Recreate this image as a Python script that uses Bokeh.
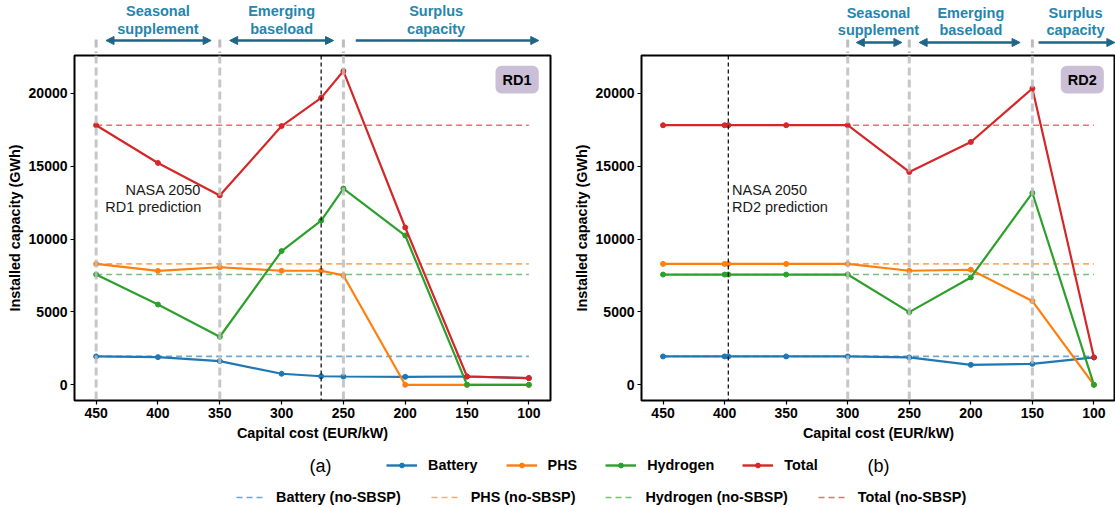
from bokeh.plotting import figure
from bokeh.layouts import column, row
from bokeh.models import (Range1d, FixedTicker, Span, Label, BoxAnnotation, Arrow,
                          NormalHead, Legend, LegendItem)
from bokeh.embed import file_html
from bokeh.resources import INLINE

# ---------------- data ----------------
x_ticks = [450, 400, 350, 300, 250, 200, 150, 100]
y_ticks = [0, 5000, 10000, 15000, 20000]

costs_rd1 = [450, 400, 350, 300, 268, 250, 200, 150, 100]
battery_rd1 = [1950, 1900, 1630, 760, 590, 570, 550, 570, 460]
phs_rd1 = [8300, 7820, 8070, 7830, 7830, 7510, 0, 0, 0]
hydrogen_rd1 = [7570, 5510, 3300, 9180, 11270, 13470, 10250, 0, 0]
total_rd1 = [17820, 15230, 13000, 17760, 19700, 21540, 10800, 570, 460]

costs_rd2 = [450, 400, 397, 350, 300, 250, 200, 150, 100]
battery_rd2 = [1950, 1950, 1950, 1950, 1950, 1880, 1370, 1440, 1880]
phs_rd2 = [8300, 8300, 8300, 8300, 8300, 7830, 7900, 5750, 0]
hydrogen_rd2 = [7570, 7570, 7570, 7570, 7570, 4990, 7370, 13170, 0]
total_rd2 = [17820, 17820, 17820, 17820, 17820, 14610, 16670, 20340, 1880]

# no-SBSP reference values
battery_nosbsp = 1950
phs_nosbsp = 8300
hydrogen_nosbsp = 7570
total_nosbsp = 17820

nasa_rd1 = 268
nasa_rd2 = 397
phase_bounds_rd1 = [450, 350, 250]
phase_bounds_rd2 = [300, 250, 150]
phase_names = [["Seasonal", "supplement"], ["Emerging", "baseload"], ["Surplus", "capacity"]]
series_names = ["Battery", "PHS", "Hydrogen", "Total"]

# ---------------- style ----------------
COLORS = ["#1f77b4", "#ff7f0e", "#2ca02c", "#d62728"]
FONT = "Liberation Sans"
TEXT_TEAL = "#2585ad"
ARROW_TEAL = "#1f6585"
GRAY = "#bdbdbd"
X_RANGE = (467.5, 82.5)
Y_RANGE = (-1076, 22606)
NAN = float("nan")


def make_header(xr, width, bl, br, bounds, text_x, text_y, arrows, arrow_y):
    h = figure(width=width, height=53, x_range=xr, y_range=Range1d(53, 0),
               output_backend="svg", toolbar_location=None,
               x_axis_location=None, y_axis_location=None,
               min_border_left=bl, min_border_right=br, min_border_top=0, min_border_bottom=0,
               outline_line_color=None, border_fill_color="white", background_fill_color="white")
    h.grid.visible = False
    h.segment(x0=bounds, y0=[39] * len(bounds), x1=bounds, y1=[53] * len(bounds),
              line_color=GRAY, line_width=3, line_dash="8 4")
    for (l1, l2), tx in zip(phase_names, text_x):
        for txt, ty in ((l1, text_y[0]), (l2, text_y[1])):
            h.add_layout(Label(x=tx, y=ty, text=txt, text_align="center", text_baseline="middle",
                               text_font=FONT, text_font_style="bold", text_font_size="14.5px",
                               text_color=TEXT_TEAL))
    for (xs, xe, both) in arrows:
        head = dict(size=8, fill_color=ARROW_TEAL, line_color=ARROW_TEAL)
        h.add_layout(Arrow(x_start=xs, y_start=arrow_y, x_end=xe, y_end=arrow_y,
                           start=NormalHead(**head) if both else None,
                           end=NormalHead(**head), line_color=ARROW_TEAL, line_width=2.5))
    return h


def make_panel(xr, width, bl, br, costs, series, bounds, nasa, nasa_x, nasa_align, badge):
    p = figure(width=width, height=392, x_range=xr, y_range=Range1d(*Y_RANGE),
               output_backend="svg", toolbar_location=None,
               min_border_left=bl, min_border_right=br, min_border_top=2, min_border_bottom=45,
               outline_line_color="black", outline_line_width=2,
               border_fill_color="white", background_fill_color="white")
    p.grid.visible = False
    p.xaxis.ticker = FixedTicker(ticks=x_ticks)
    p.yaxis.ticker = FixedTicker(ticks=y_ticks)
    p.axis.axis_line_color = None
    p.axis.minor_tick_line_color = None
    p.axis.major_tick_in = 0
    p.axis.major_tick_out = 4
    p.axis.major_tick_line_width = 1.2
    p.axis.major_label_text_font = FONT
    p.axis.major_label_text_font_style = "bold"
    p.axis.major_label_text_font_size = "14px"
    p.axis.major_label_text_color = "black"
    p.axis.major_label_standoff = 3
    p.axis.axis_label_text_font = FONT
    p.axis.axis_label_text_font_style = "bold"
    p.axis.axis_label_text_font_size = "14.4px"
    p.axis.axis_label_text_color = "black"
    p.axis.axis_label_standoff = 4
    p.xaxis.axis_label = "Capital cost (EUR/kW)"
    p.yaxis.axis_label = "Installed capacity (GWh)"
    p.yaxis.axis_label_standoff = 3

    # no-SBSP dashed references
    refs = [battery_nosbsp, phs_nosbsp, hydrogen_nosbsp, total_nosbsp]
    for val, c in zip(refs, COLORS):
        p.line(x=[costs[0], costs[-1]], y=[val, val], line_color=c, line_width=1.6,
               line_dash="6 4", line_alpha=0.65)
    for ys, c in zip(series, COLORS):
        p.line(x=costs, y=ys, line_color=c, line_width=2.2)
        p.scatter(x=costs, y=ys, size=5, fill_color=c, line_color=c)

    for b in bounds:
        p.add_layout(Span(location=b, dimension="height", line_color=GRAY, line_width=3,
                          line_dash="8 4", line_alpha=0.85))
    p.add_layout(Span(location=nasa, dimension="height", line_color="black", line_width=1.2,
                      line_dash="4 3"))
    p.add_layout(Label(x=nasa_x, y=13400, text="NASA 2050", text_align=nasa_align,
                       text_baseline="middle", text_font=FONT, text_font_size="14.5px",
                       text_color="#1a1a1a"))
    p.add_layout(Label(x=nasa_x, y=12200, text=badge + " prediction", text_align=nasa_align,
                       text_baseline="middle", text_font=FONT, text_font_size="14.5px",
                       text_color="#1a1a1a"))
    p.add_layout(BoxAnnotation(left=127, right=92, bottom=20000, top=21900,
                               fill_color="#cbbfd8", fill_alpha=1, line_color=None,
                               border_radius=6))
    p.add_layout(Label(x=109.5, y=20950, text=badge, text_align="center", text_baseline="middle",
                       text_font=FONT, text_font_style="bold", text_font_size="14.5px",
                       text_color="black"))
    return p


xr1 = Range1d(*X_RANGE)
xr2 = Range1d(*X_RANGE)

h1 = make_header(xr1, 560, 74, 10, phase_bounds_rd1, [400, 300, 175], [10, 28],
                 [(442, 357, True), (342, 258, True), (240, 92, False)], 40)
h2 = make_header(xr2, 555, 81, 0, phase_bounds_rd2, [275, 200, 115], [12, 29.5],
                 [(293, 256, True), (242, 160, True), (145, 83, False)], 42)

p1 = make_panel(xr1, 560, 74, 10, costs_rd1,
                [battery_rd1, phs_rd1, hydrogen_rd1, total_rd1],
                phase_bounds_rd1, nasa_rd1, 365, "right", "RD1")
p2 = make_panel(xr2, 555, 81, 0, costs_rd2,
                [battery_rd2, phs_rd2, hydrogen_rd2, total_rd2],
                phase_bounds_rd2, nasa_rd2, 394, "left", "RD2")

# ---------------- legend strip ----------------
lg = figure(width=1115, height=63, x_range=Range1d(0, 1115), y_range=Range1d(0, 63),
            output_backend="svg", toolbar_location=None,
            x_axis_location=None, y_axis_location=None,
            min_border_left=0, min_border_right=0, min_border_top=0, min_border_bottom=0,
            outline_line_color=None, border_fill_color="white", background_fill_color="white")
lg.grid.visible = False
lg.add_layout(Label(x=320, y=43, text="(a)", text_align="center", text_baseline="middle",
                    text_font=FONT, text_font_size="18px", text_color="black"))
lg.add_layout(Label(x=878, y=43, text="(b)", text_align="center", text_baseline="middle",
                    text_font=FONT, text_font_size="18px", text_color="black"))

items1, items2 = [], []
for name, c in zip(series_names, COLORS):
    # legend-only proxies (a single NaN point draws nothing on the strip)
    l = lg.line(x=[NAN], y=[NAN], line_color=c, line_width=2.4)
    s = lg.scatter(x=[NAN], y=[NAN], size=5, fill_color=c, line_color=c)
    items1.append(LegendItem(label=name, renderers=[l, s]))
    d = lg.line(x=[NAN], y=[NAN], line_color=c, line_width=1.6, line_dash="6 4", line_alpha=0.65)
    items2.append(LegendItem(label=name + " (no-SBSP)", renderers=[d]))

common = dict(orientation="horizontal", padding=0, margin=0, border_line_color=None,
              background_fill_alpha=0, label_text_font=FONT, label_text_font_style="bold",
              label_text_font_size="14.4px", label_text_color="black", label_height=20)
leg1 = Legend(items=items1, location=(386, 33), glyph_width=31, glyph_height=12,
              label_standoff=11, spacing=28, **common)
leg2 = Legend(items=items2, location=(236, 1), glyph_width=27, glyph_height=20,
              label_standoff=13, spacing=30, **common)
lg.add_layout(leg1)
lg.add_layout(leg2)

layout = column(row(h1, h2), row(p1, p2), lg)

open("out.html", "w").write(file_html(layout, INLINE))
